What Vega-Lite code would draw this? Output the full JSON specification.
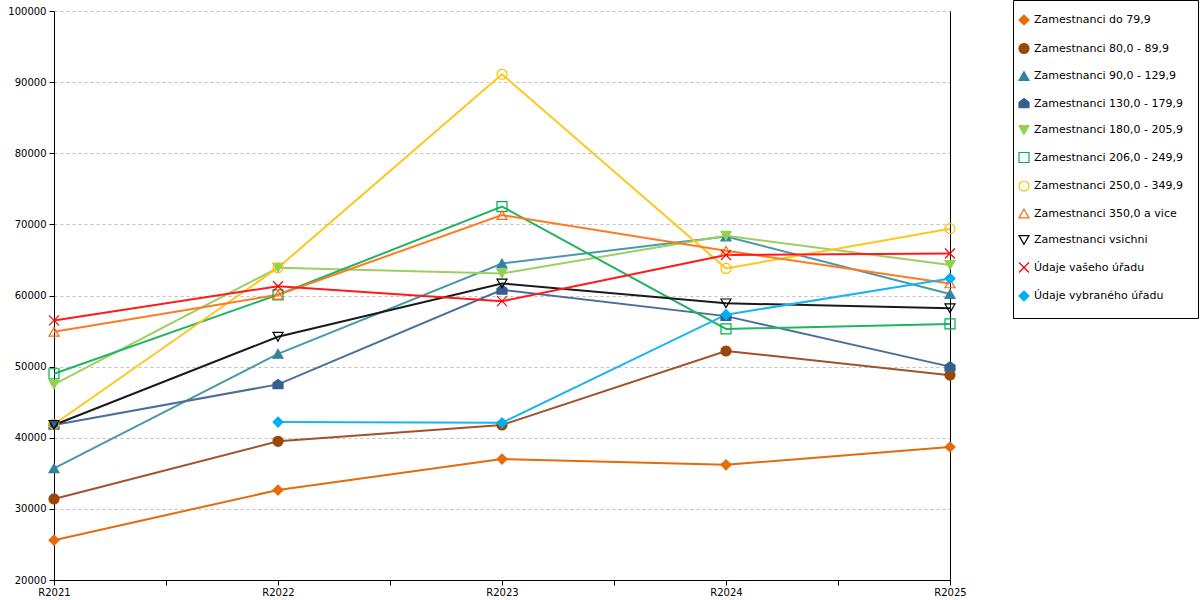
{
  "$schema": "https://vega.github.io/schema/vega-lite/v6.json",
  "width": 896,
  "height": 569,
  "autosize": "none",
  "padding": {"left": 54, "top": 11, "right": 250, "bottom": 20},
  "config": {"view": {"stroke": null}, "font": "DejaVu Sans"},
  "data": {
    "values": [
      {"serie": "Zamestnanci do 79,9", "year": 2021, "value": 25600},
      {"serie": "Zamestnanci do 79,9", "year": 2022, "value": 32650},
      {"serie": "Zamestnanci do 79,9", "year": 2023, "value": 37000},
      {"serie": "Zamestnanci do 79,9", "year": 2024, "value": 36200},
      {"serie": "Zamestnanci do 79,9", "year": 2025, "value": 38700},
      {"serie": "Zamestnanci 80,0 - 89,9", "year": 2021, "value": 31400},
      {"serie": "Zamestnanci 80,0 - 89,9", "year": 2022, "value": 39500},
      {"serie": "Zamestnanci 80,0 - 89,9", "year": 2023, "value": 41800},
      {"serie": "Zamestnanci 80,0 - 89,9", "year": 2024, "value": 52200},
      {"serie": "Zamestnanci 80,0 - 89,9", "year": 2025, "value": 48800},
      {"serie": "Zamestnanci 90,0 - 129,9", "year": 2021, "value": 35700},
      {"serie": "Zamestnanci 90,0 - 129,9", "year": 2022, "value": 51800},
      {"serie": "Zamestnanci 90,0 - 129,9", "year": 2023, "value": 64500},
      {"serie": "Zamestnanci 90,0 - 129,9", "year": 2024, "value": 68300},
      {"serie": "Zamestnanci 90,0 - 129,9", "year": 2025, "value": 60200},
      {"serie": "Zamestnanci 130,0 - 179,9", "year": 2021, "value": 41800},
      {"serie": "Zamestnanci 130,0 - 179,9", "year": 2022, "value": 47500},
      {"serie": "Zamestnanci 130,0 - 179,9", "year": 2023, "value": 60800},
      {"serie": "Zamestnanci 130,0 - 179,9", "year": 2024, "value": 57100},
      {"serie": "Zamestnanci 130,0 - 179,9", "year": 2025, "value": 50000},
      {"serie": "Zamestnanci 180,0 - 205,9", "year": 2021, "value": 47500},
      {"serie": "Zamestnanci 180,0 - 205,9", "year": 2022, "value": 63900},
      {"serie": "Zamestnanci 180,0 - 205,9", "year": 2023, "value": 63100},
      {"serie": "Zamestnanci 180,0 - 205,9", "year": 2024, "value": 68400},
      {"serie": "Zamestnanci 180,0 - 205,9", "year": 2025, "value": 64300},
      {"serie": "Zamestnanci 206,0 - 249,9", "year": 2021, "value": 49000},
      {"serie": "Zamestnanci 206,0 - 249,9", "year": 2022, "value": 60100},
      {"serie": "Zamestnanci 206,0 - 249,9", "year": 2023, "value": 72500},
      {"serie": "Zamestnanci 206,0 - 249,9", "year": 2024, "value": 55300},
      {"serie": "Zamestnanci 206,0 - 249,9", "year": 2025, "value": 56000},
      {"serie": "Zamestnanci 250,0 - 349,9", "year": 2021, "value": 41900},
      {"serie": "Zamestnanci 250,0 - 349,9", "year": 2022, "value": 63900},
      {"serie": "Zamestnanci 250,0 - 349,9", "year": 2023, "value": 91100},
      {"serie": "Zamestnanci 250,0 - 349,9", "year": 2024, "value": 63800},
      {"serie": "Zamestnanci 250,0 - 349,9", "year": 2025, "value": 69400},
      {"serie": "Zamestnanci 350,0 a vice", "year": 2021, "value": 54900},
      {"serie": "Zamestnanci 350,0 a vice", "year": 2022, "value": 60100},
      {"serie": "Zamestnanci 350,0 a vice", "year": 2023, "value": 71300},
      {"serie": "Zamestnanci 350,0 a vice", "year": 2024, "value": 66300},
      {"serie": "Zamestnanci 350,0 a vice", "year": 2025, "value": 61700},
      {"serie": "Zamestnanci vsichni", "year": 2021, "value": 41800},
      {"serie": "Zamestnanci vsichni", "year": 2022, "value": 54200},
      {"serie": "Zamestnanci vsichni", "year": 2023, "value": 61700},
      {"serie": "Zamestnanci vsichni", "year": 2024, "value": 58900},
      {"serie": "Zamestnanci vsichni", "year": 2025, "value": 58200},
      {"serie": "Údaje vašeho úřadu", "year": 2021, "value": 56500},
      {"serie": "Údaje vašeho úřadu", "year": 2022, "value": 61300},
      {"serie": "Údaje vašeho úřadu", "year": 2023, "value": 59200},
      {"serie": "Údaje vašeho úřadu", "year": 2024, "value": 65700},
      {"serie": "Údaje vašeho úřadu", "year": 2025, "value": 65900},
      {"serie": "Údaje vybraného úřadu", "year": 2022, "value": 42200},
      {"serie": "Údaje vybraného úřadu", "year": 2023, "value": 42100},
      {"serie": "Údaje vybraného úřadu", "year": 2024, "value": 57300},
      {"serie": "Údaje vybraného úřadu", "year": 2025, "value": 62400}
    ]
  },
  "encoding": {
    "x": {
      "field": "year",
      "type": "quantitative",
      "scale": {"domain": [2021, 2025], "nice": false, "zero": false},
      "axis": {
        "title": null,
        "grid": false,
        "values": [2021, 2021.5, 2022, 2022.5, 2023, 2023.5, 2024, 2024.5, 2025],
        "labelExpr": "datum.value % 1 == 0 ? 'R' + datum.value : ''",
        "labelFlush": false,
        "labelOverlap": false,
        "labelFontSize": 10,
        "labelColor": "#000000",
        "labelPadding": 2,
        "domainColor": "#000000",
        "tickColor": "#000000",
        "tickSize": 5
      }
    },
    "y": {
      "field": "value",
      "type": "quantitative",
      "scale": {"domain": [20000, 100000], "nice": false, "zero": false},
      "axis": {
        "title": null,
        "values": [20000, 30000, 40000, 50000, 60000, 70000, 80000, 90000, 100000],
        "format": "d",
        "labelFontSize": 10,
        "labelColor": "#000000",
        "labelPadding": 3,
        "domainColor": "#000000",
        "tickColor": "#000000",
        "tickSize": 5,
        "gridColor": "#C0C0C0",
        "gridDash": [3, 3]
      }
    }
  },
  "layer": [
    {
      "mark": {"type": "line", "strokeWidth": 2},
      "encoding": {
        "color": {
          "field": "serie",
          "type": "nominal",
          "legend": null,
          "scale": {
            "range": ["#4A6E9C", "#9BD060", "#20B464", "#FFC61A", "#FF7A1F", "#A0522D", "#4A98AE", "#E46C0A", "#1A1A1A", "#FF1A1A", "#1AB4F0"]
          }
        }
      }
    },
    {
      "mark": {"type": "point", "size": 100, "strokeWidth": 1.2, "opacity": 1},
      "encoding": {
        "y": {
          "field": "value",
          "type": "quantitative",
          "scale": {"domain": [20000, 100000], "nice": false, "zero": false},
          "axis": {"orient": "right", "title": null, "labels": false, "ticks": false, "grid": false, "domainColor": "#000000"}
        },
        "stroke": {
          "field": "serie",
          "type": "nominal",
          "scale": {
            "domain": ["Zamestnanci do 79,9", "Zamestnanci 80,0 - 89,9", "Zamestnanci 90,0 - 129,9", "Zamestnanci 130,0 - 179,9", "Zamestnanci 180,0 - 205,9", "Zamestnanci 206,0 - 249,9", "Zamestnanci 250,0 - 349,9", "Zamestnanci 350,0 a vice", "Zamestnanci vsichni", "Údaje vašeho úřadu", "Údaje vybraného úřadu"],
            "range": ["#E46C0A", "#984807", "#31849B", "#365F91", "#92D050", "#00B050", "#FFC000", "#FF6A10", "#000000", "#FF0000", "#00B0F0"]
          },
          "legend": {
            "title": null,
            "orient": "none",
            "legendX": 959,
            "legendY": -11,
            "direction": "vertical",
            "strokeColor": "#000000",
            "fillColor": "#FFFFFF",
            "padding": 14,
            "rowPadding": 12.5,
            "symbolSize": 100,
            "symbolStrokeWidth": 1.2,
            "symbolOffset": -9,
            "labelFontSize": 11,
            "labelColor": "#000000",
            "labelOffset": 4,
            "labelLimit": 300
          }
        },
        "fill": {
          "field": "serie",
          "type": "nominal",
          "scale": {
            "domain": ["Zamestnanci do 79,9", "Zamestnanci 80,0 - 89,9", "Zamestnanci 90,0 - 129,9", "Zamestnanci 130,0 - 179,9", "Zamestnanci 180,0 - 205,9", "Zamestnanci 206,0 - 249,9", "Zamestnanci 250,0 - 349,9", "Zamestnanci 350,0 a vice", "Zamestnanci vsichni", "Údaje vašeho úřadu", "Údaje vybraného úřadu"],
            "range": ["#E46C0A", "#984807", "#31849B", "#365F91", "#92D050", "transparent", "transparent", "transparent", "transparent", "transparent", "#00B0F0"]
          }
        },
        "shape": {
          "field": "serie",
          "type": "nominal",
          "scale": {
            "domain": ["Zamestnanci do 79,9", "Zamestnanci 80,0 - 89,9", "Zamestnanci 90,0 - 129,9", "Zamestnanci 130,0 - 179,9", "Zamestnanci 180,0 - 205,9", "Zamestnanci 206,0 - 249,9", "Zamestnanci 250,0 - 349,9", "Zamestnanci 350,0 a vice", "Zamestnanci vsichni", "Údaje vašeho úřadu", "Údaje vybraného úřadu"],
            "range": ["diamond", "circle", "triangle-up", "M0,-1L1,-0.25L1,0.85L-1,0.85L-1,-0.25Z", "triangle-down", "square", "circle", "triangle-up", "triangle-down", "M-1,-1L1,1M-1,1L1,-1", "diamond"]
          }
        }
      }
    }
  ],
  "resolve": {"axis": {"y": "independent"}}
}
